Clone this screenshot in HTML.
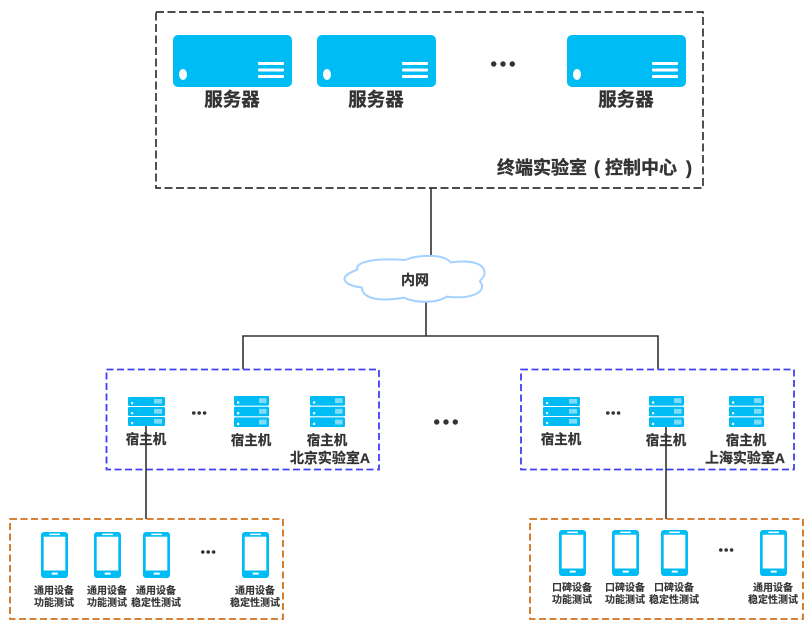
<!DOCTYPE html>
<html>
<head>
<meta charset="utf-8">
<style>
html,body{margin:0;padding:0;background:#fff;width:812px;height:630px;overflow:hidden}
svg{display:block}
text{font-family:"Liberation Sans","Noto Sans CJK SC",sans-serif;font-weight:700;fill:#333;stroke:#333;text-anchor:middle}
.a{font-size:18.5px;stroke-width:.35px}.t{font-size:18px;stroke-width:.35px;text-anchor:start}.b{font-size:14px;stroke-width:.25px}.h{font-size:13.5px;stroke-width:.25px}.c{font-size:10px;stroke-width:.12px}
.l{stroke:#333;stroke-width:1.6;fill:none}
.blue{fill:none;stroke:#4040f8;stroke-width:1.8;stroke-dasharray:7 3.5}
.org{fill:none;stroke:#d2701c;stroke-width:1.8;stroke-dasharray:7 3.5}
</style>
</head>
<body>
<svg width="812" height="630" viewBox="0 0 812 630" xmlns="http://www.w3.org/2000/svg">
<defs>
<g id="srv">
<rect x="0" y="0" width="119" height="52" rx="5" fill="#00bcf5"/>
<ellipse cx="10" cy="39.5" rx="4" ry="5.5" fill="#fff"/>
<rect x="85" y="27" width="26" height="3" fill="#fff" rx="1"/>
<rect x="85" y="33.5" width="26" height="3" fill="#fff" rx="1"/>
<rect x="85" y="40" width="26" height="3" fill="#fff" rx="1"/>
</g>
<g id="row">
<rect x="0" y="0" width="37" height="9" rx="1.2" fill="#00bcf5"/>
<rect x="3" y="5" width="2.2" height="2.2" fill="#fff"/>
<rect x="26" y="2" width="8" height="4.6" fill="#7fdcf9"/>
</g>
<g id="row2">
<rect x="0" y="0" width="35" height="9.6" rx="1.2" fill="#00bcf5"/>
<rect x="3" y="5.4" width="2.2" height="2.2" fill="#fff"/>
<rect x="25" y="2.2" width="7.5" height="4.9" fill="#7fdcf9"/>
</g>
<g id="h1"><use href="#row" y="0"/><use href="#row" y="10"/><use href="#row" y="20"/></g>
<g id="h2"><use href="#row2" y="0"/><use href="#row2" y="10.7"/><use href="#row2" y="21.4"/></g>
<g id="ph">
<rect x="0" y="0" width="27" height="46" rx="3" fill="#00bcf5"/>
<rect x="2.7" y="4.7" width="21.6" height="33.8" fill="#fff"/>
<rect x="8.3" y="1.6" width="10.6" height="1.5" fill="#fff"/>
<rect x="10.7" y="40.6" width="6" height="2" fill="#fff"/>
</g>
<g id="dots"><circle cx="2.7" cy="0" r="2.7" fill="#333"/><circle cx="12" cy="0" r="2.7" fill="#333"/><circle cx="21.300" cy="0" r="2.7" fill="#333"/></g>
<g id="dots2"><circle cx="1.8" cy="0" r="1.8" fill="#333"/><circle cx="7.2" cy="0" r="1.8" fill="#333"/><circle cx="12.600" cy="0" r="1.8" fill="#333"/></g>
</defs>

<!-- connectors -->
<path class="l" d="M431 188V256M426 301V336M243 369V336H658V369"/>

<!-- top box -->
<rect x="156" y="12" width="547" height="176" fill="none" stroke="#333" stroke-width="1.7" stroke-dasharray="8 3.5"/>
<use href="#srv" x="173" y="35"/>
<use href="#srv" x="317" y="35"/>
<use href="#srv" x="567" y="35"/>
<text class="a" x="232" y="106">服务器</text>
<text class="a" x="376" y="106">服务器</text>
<text class="a" x="626" y="106">服务器</text>
<use href="#dots" x="491" y="64"/>
<text class="t" x="497" y="174">终端实验室</text>
<text class="t" x="594" y="174">(</text>
<text class="t" x="605" y="174">控制中心</text>
<text class="t" x="686" y="174">)</text>

<!-- cloud -->
<g transform="translate(330 240) scale(.3333)">
<path d="M44 113C50 100 70 95 82 88C75 70 120 52 225 60C260 45 340 40 362 67C420 60 470 68 463 105C460 115 450 118 450 125C470 145 445 180 350 170C320 190 260 190 222 173C170 182 100 185 95 142C60 140 40 125 44 113Z" fill="#fff" stroke="#a3d2ff" stroke-width="6"/>
</g>
<text class="b" x="415" y="285">内网</text>

<!-- labs -->
<rect x="106.500" y="369.500" width="272.500" height="100" class="blue"/>
<rect x="521" y="369.500" width="273" height="100" class="blue"/>

<use href="#h1" x="128" y="397"/>
<use href="#h2" x="234" y="396"/>
<use href="#h2" x="310" y="396"/>
<use href="#h1" x="543" y="397"/>
<use href="#h2" x="649" y="396"/>
<use href="#h2" x="729" y="396"/>

<use href="#dots2" x="192" y="413"/>
<use href="#dots2" x="606" y="413"/>
<use href="#dots" x="434" y="422"/>
<use href="#dots2" x="201" y="552"/>
<use href="#dots2" x="719" y="550"/>

<path class="l" d="M146 426V519M666 427V519"/>

<text class="h" x="146" y="444">宿主机</text>
<text class="h" x="251" y="445">宿主机</text>
<text class="h" x="327" y="445">宿主机</text>
<text class="b" x="330" y="463">北京实验室A</text>
<text class="h" x="561" y="444">宿主机</text>
<text class="h" x="666" y="445">宿主机</text>
<text class="h" x="746" y="445">宿主机</text>
<text class="b" x="745" y="463">上海实验室A</text>

<!-- device boxes -->
<rect x="10" y="519" width="273" height="100" class="org"/>
<rect x="530" y="519" width="273" height="100" class="org"/>

<use href="#ph" x="41" y="532"/>
<use href="#ph" x="94" y="532"/>
<use href="#ph" x="143" y="532"/>
<use href="#ph" x="242" y="532"/>
<use href="#ph" x="559" y="530"/>
<use href="#ph" x="612" y="530"/>
<use href="#ph" x="661" y="530"/>
<use href="#ph" x="760" y="530"/>

<text class="c" x="54" y="594">通用设备</text>
<text class="c" x="54" y="606">功能测试</text>
<text class="c" x="107" y="594">通用设备</text>
<text class="c" x="107" y="606">功能测试</text>
<text class="c" x="156" y="594">通用设备</text>
<text class="c" x="156" y="606">稳定性测试</text>
<text class="c" x="255" y="594">通用设备</text>
<text class="c" x="255" y="606">稳定性测试</text>

<text class="c" x="572" y="591">口碑设备</text>
<text class="c" x="572" y="603">功能测试</text>
<text class="c" x="625" y="591">口碑设备</text>
<text class="c" x="625" y="603">功能测试</text>
<text class="c" x="674" y="591">口碑设备</text>
<text class="c" x="674" y="603">稳定性测试</text>
<text class="c" x="773" y="591">通用设备</text>
<text class="c" x="773" y="603">稳定性测试</text>
</svg>
</body>
</html>
